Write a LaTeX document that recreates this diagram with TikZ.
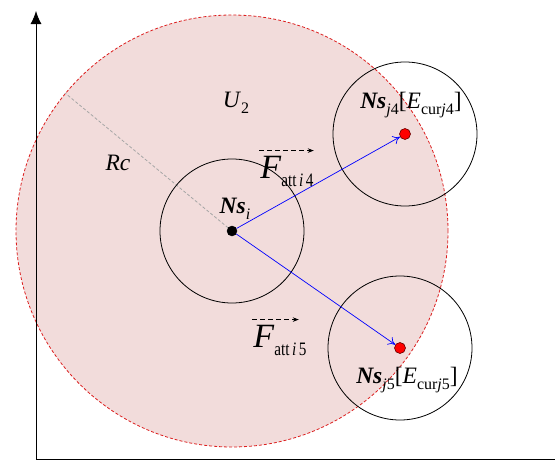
\documentclass[tikz,border=0pt]{standalone}
\usepackage{fontspec}
\setmainfont{Liberation Serif}
\usetikzlibrary{arrows.meta}
\definecolor{pinkfill}{RGB}{242,220,219}
\definecolor{dashred}{RGB}{220,30,30}
\newcommand\mysub[1]{\raisebox{-0.28em}{\fontsize{16}{17}\selectfont #1}}
\newcommand\mysubF[1]{\raisebox{-0.8em}{\fontsize{19}{20}\selectfont\scalebox{0.8}[1]{#1}}}
\begin{document}
\begin{tikzpicture}[x=1pt,y=-1pt,
  lbl/.style={inner sep=0pt, font=\fontsize{23.5}{25}\selectfont},
  ring/.style={draw=black, line width=0.8pt},
  dotblack/.style={circle, fill=black, draw=black, inner sep=0pt, minimum size=10pt},
  dotred/.style={circle, fill=red, draw=red!40!black, line width=0.6pt, inner sep=0pt, minimum size=11pt},
  force/.style={draw=blue, line width=0.7pt, -{To[length=7pt,width=9pt]}},
  vecbar/.style={draw=black, line width=0.8pt, dash pattern=on 5pt off 3pt, -{Stealth[length=6pt,width=4.5pt]}}]
\useasboundingbox (0,0) rectangle (555,463);
% big region
\coordinate (O) at (232,231);
\fill[pinkfill] (O) circle[radius=216pt];
\draw[dashred, line width=0.8pt, dash pattern=on 3pt off 2pt] (O) circle[radius=216pt];
% axes
\coordinate (orig) at (36,459);
\coordinate (ytop) at (36,11);
\coordinate (xend) at (555,459);
\draw[line width=0.9pt, -{Latex[length=13pt,width=11pt]}] (orig) -- (ytop);
\draw[line width=0.9pt] (orig) -- (xend);
% radius line
\coordinate (rcend) at (65,93);
\draw[gray!70, line width=0.8pt, dash pattern=on 3pt off 2pt] (O) -- (rcend);
% small circles
\coordinate (J4) at (405,134);
\coordinate (J5) at (400,348);
\draw[ring] (O) circle[radius=72pt];
\draw[ring] (J4) circle[radius=72pt];
\draw[ring] (J5) circle[radius=72pt];
% dots
\node[dotblack] (Ni) at (O) {};
\node[dotred] (Nj4) at (J4) {};
\node[dotred] (Nj5) at (J5) {};
% forces
\draw[force] (Ni) -- (Nj4);
\draw[force] (Ni) -- (Nj5);
% labels
\node[lbl] (U2) at (236,103) {\textit{U}\mysub{2}};
\node[lbl] (Rc) at (118,163) {\textit{Rc}};
\node[lbl] (Nsi) at (235,209) {\textbf{\textit{Ns}}\mysub{\textit{i}}};
\node[lbl] (Lj4) at (411,105) {\textbf{\textit{Ns}}\mysub{\textit{j}4}[\textit{E}\mysub{cur\textit{j}4}]};
\node[lbl] (Lj5) at (407,380) {\textbf{\textit{Ns}}\mysub{\textit{j}5}[\textit{E}\mysub{cur\textit{j}5}]};
\node[inner sep=0pt] (F4) at (287,171) {{\fontsize{34}{36}\selectfont\textit{F}}\mysubF{att\,\textit{i}\,4}};
\node[inner sep=0pt] (F5) at (280,340) {{\fontsize{34}{36}\selectfont\textit{F}}\mysubF{att\,\textit{i}\,5}};
\draw[vecbar] ([xshift=-1pt,yshift=5pt]F4.north west) -- ([xshift=0pt,yshift=5pt]F4.north east);
\draw[vecbar] ([xshift=-1pt,yshift=5pt]F5.north west) -- ([xshift=-8pt,yshift=5pt]F5.north east);
\end{tikzpicture}
\end{document}
